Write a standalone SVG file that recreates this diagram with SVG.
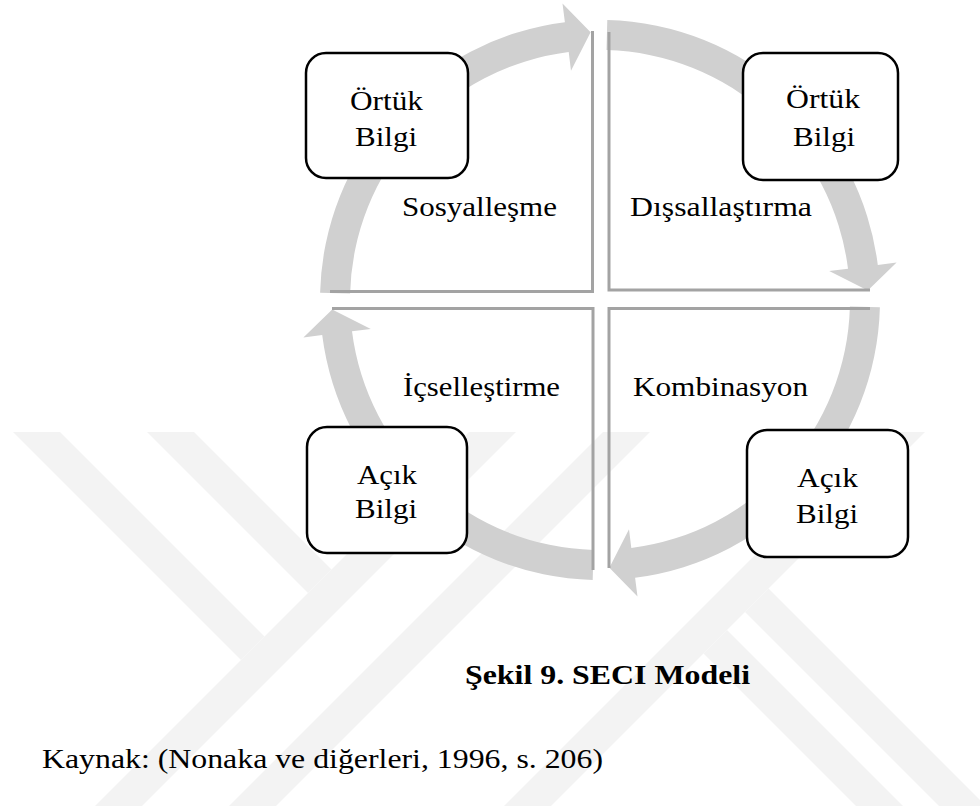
<svg xmlns="http://www.w3.org/2000/svg" xmlns:xlink="http://www.w3.org/1999/xlink" width="980" height="806" viewBox="0 0 980 806">
  <style>
    .wm { fill: #f3f3f3; stroke: none; }
    .arrow { fill: #d0d0d0; stroke: none; }
    .quad { fill: none; stroke: #a3a3a3; stroke-width: 3; }
    .box { fill: #ffffff; stroke: #000000; stroke-width: 2.5; }
    .t { font-family: "Liberation Serif", "Times New Roman", serif; font-size: 28px; fill: #000000; }
    .cap { font-weight: bold; }
  </style>
  <defs>
    <path id="arc-arrow" d="M 320.1 292.7 A 280 280 0 0 1 564.9 22.2 L 562.5 3.4 L 590.6 32.2 L 571.0 70.8 L 568.7 52.0 A 250 250 0 0 0 350.1 293.5 Z"/>
  </defs>
  <rect x="0" y="0" width="980" height="806" fill="#ffffff"/>

  <g id="watermark">
    <polygon class="wm" points="95,806 142,806 516,432 469,432"/>
    <polygon class="wm" points="229,806 276,806 650,432 603,432"/>
    <polygon class="wm" points="504,806 551,806 925,432 878,432"/>
    <polygon class="wm" points="13,432 60,432 264.5,636.5 241,660"/>
    <polygon class="wm" points="147,432 194,432 331.5,569.5 308,593"/>
    <polygon class="wm" points="727,630 903,806 856,806 703.5,653.5"/>
    <polygon class="wm" points="768.5,588.5 980,800 980,806 939,806 745,612"/>
  </g>

  <g id="connectors">
    <use xlink:href="#arc-arrow" class="arrow"/>
    <use xlink:href="#arc-arrow" class="arrow" transform="rotate(90 600 300)"/>
    <use xlink:href="#arc-arrow" class="arrow" transform="rotate(180 600 300)"/>
    <use xlink:href="#arc-arrow" class="arrow" transform="rotate(270 600 300)"/>
  </g>

  <g id="quadrants">
    <path class="quad" d="M 330 291.5 H 592.5 V 31"/>
    <path class="quad" d="M 609 32 V 290 H 870"/>
    <path class="quad" d="M 332 308.5 H 593 V 570"/>
    <path class="quad" d="M 870 308.5 H 609 V 568"/>
  </g>

  <g id="label-sosyallesme">
    <text class="t" x="402" y="216" textLength="155" lengthAdjust="spacingAndGlyphs">Sosyalleşme</text>
  </g>
  <g id="label-dissallastirma">
    <text class="t" x="630" y="216" textLength="182" lengthAdjust="spacingAndGlyphs">Dışsallaştırma</text>
  </g>
  <g id="label-icsellestirme">
    <text class="t" x="403" y="396" textLength="157" lengthAdjust="spacingAndGlyphs">İçselleştirme</text>
  </g>
  <g id="label-kombinasyon">
    <text class="t" x="633" y="396" textLength="175" lengthAdjust="spacingAndGlyphs">Kombinasyon</text>
  </g>

  <g id="node-ortuk-tl">
    <rect class="box" x="306" y="53" width="162" height="125" rx="20" ry="20"/>
    <text class="t" x="350" y="110" textLength="73" lengthAdjust="spacingAndGlyphs">Örtük</text>
    <text class="t" x="355" y="146" textLength="62" lengthAdjust="spacingAndGlyphs">Bilgi</text>
  </g>
  <g id="node-ortuk-tr">
    <rect class="box" x="743" y="53" width="155" height="127" rx="20" ry="20"/>
    <text class="t" x="786" y="108" textLength="74" lengthAdjust="spacingAndGlyphs">Örtük</text>
    <text class="t" x="793" y="146" textLength="62" lengthAdjust="spacingAndGlyphs">Bilgi</text>
  </g>
  <g id="node-acik-bl">
    <rect class="box" x="307" y="427" width="160" height="126" rx="20" ry="20"/>
    <text class="t" x="357" y="484" textLength="60" lengthAdjust="spacingAndGlyphs">Açık</text>
    <text class="t" x="355" y="518" textLength="62" lengthAdjust="spacingAndGlyphs">Bilgi</text>
  </g>
  <g id="node-acik-br">
    <rect class="box" x="747" y="430" width="161" height="127" rx="20" ry="20"/>
    <text class="t" x="797" y="487" textLength="61" lengthAdjust="spacingAndGlyphs">Açık</text>
    <text class="t" x="796" y="523" textLength="62" lengthAdjust="spacingAndGlyphs">Bilgi</text>
  </g>

  <g id="caption">
    <text class="t cap" x="465" y="684" textLength="285" lengthAdjust="spacingAndGlyphs">Şekil 9. SECI Modeli</text>
    <text class="t" x="42" y="768" textLength="561" lengthAdjust="spacingAndGlyphs">Kaynak: (Nonaka ve diğerleri, 1996, s. 206)</text>
  </g>
</svg>
